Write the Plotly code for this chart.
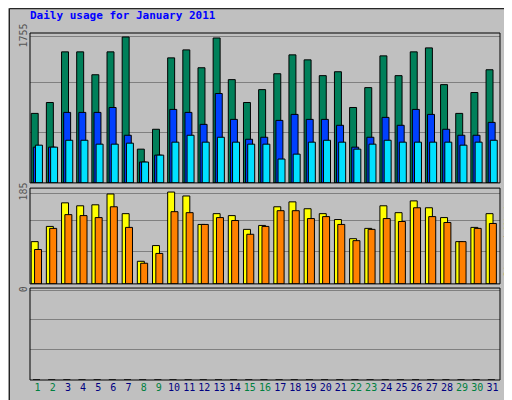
import plotly.graph_objects as go

days = list(range(1, 32))
hits = [836,967,1576,1576,1301,1576,1755,406,645,1504,1600,1385,1743,1242,967,1122,1313,1540,1480,1290,1337,907,1146,1528,1290,1576,1624,1182,836,1087,1361]
files = [430,430,848,848,848,907,573,251,334,884,848,704,1075,764,525,549,752,824,764,764,693,430,549,788,693,884,824,645,573,573,728]
pages = [454,430,513,513,466,466,478,251,334,490,573,490,549,490,466,466,287,346,490,513,490,406,466,513,490,490,490,490,454,490,513]
visits = [86,117,165,159,161,183,143,46,78,187,179,121,143,139,111,119,157,167,153,143,131,92,113,159,145,169,155,135,86,115,143]
sites = [70,113,141,139,135,157,115,42,62,147,145,121,135,129,101,117,149,149,133,137,121,88,111,133,127,155,137,125,86,113,123]
kbytes = [0]*31
weekend = {1,2,8,9,15,16,22,23,29,30}
tick_labels = [f"<span style='color:{'#008040' if d in weekend else '#000080'}'>{d}</span>" for d in days]

fig = go.Figure()
W = 0.46
def bar(y, color, off, yaxis):
    fig.add_trace(go.Bar(x=days, y=y, marker=dict(color=color, line=dict(color="black", width=1)),
                         offset=off, width=W, yaxis=yaxis, showlegend=False))
bar(hits, "#00805A", -0.42, "y")
bar(files, "#0040FF", -0.28, "y")
bar(pages, "#00E0FF", -0.14, "y")
bar(visits, "#FFFF00", -0.42, "y2")
bar(sites, "#FF8000", -0.2, "y2")
bar(kbytes, "#FF0000", -0.3, "y3")

font = dict(family="DejaVu Sans Mono", size=10, color="#000000")
xa = dict(range=[0.5, 31.5], showgrid=False, zeroline=False, showline=False, automargin=False)
ya = dict(tickangle=-90, gridcolor="#808080", zeroline=False, ticks="", automargin=False,
          tickfont=dict(color="#555555"), anchor="x")
fig.update_layout(
    width=512, height=400, paper_bgcolor="#C0C0C0", plot_bgcolor="#C0C0C0",
    margin=dict(l=22, r=20, t=25, b=28, autoexpand=False), barmode="overlay", font=font,
    xaxis=dict(**xa, anchor="y3", tickvals=days, ticktext=tick_labels, ticks="",
               tickfont=dict(size=10, family="DejaVu Sans Mono")),
    yaxis=dict(domain=[0.568, 1.0], range=[0, 1803], tickvals=[601, 1202, 1755], ticktext=["", "", "1755"], **ya),
    yaxis2=dict(domain=[0.277, 0.553], range=[0, 195], tickvals=[65, 130, 185], ticktext=["", "", "185"], **ya),
    yaxis3=dict(domain=[0.0, 0.265], range=[0, 1], tickvals=[0.33, 0.66, 0.97], ticktext=["", "", "0"], **ya),
)
for d0, d1 in [(0.568, 1.0), (0.277, 0.553), (0.0, 0.265)]:
    fig.add_shape(type="rect", xref="paper", yref="paper", x0=0, x1=1, y0=d0, y1=d1,
                  line=dict(color="black", width=1), layer="above")
fig.add_shape(type="rect", xref="paper", yref="paper", x0=-0.044, x1=1.04, y0=-0.078, y1=1.07,
              line=dict(color="#000000", width=1))
fig.add_annotation(text="<b>Daily usage for January 2011</b>", xref="paper", yref="paper", x=-0.005, y=1.025,
                   xanchor="left", yanchor="bottom", showarrow=False,
                   font=dict(family="DejaVu Sans Mono", size=11, color="#0000FF"))
fig.add_annotation(text="<span style='color:#00C0FF'>Pages</span> / <span style='color:#0040FF'>Files</span> / <span style='color:#00805A'>Hits</span>",
                   xref="paper", yref="paper", x=1.004, y=0.99, xanchor="left", yanchor="top", textangle=-90,
                   showarrow=False, font=dict(family="DejaVu Sans Mono", size=10, color="#000"))
fig.add_annotation(text="<span style='color:#FF8000'>Sites</span> / <span style='color:#E0E000'>Visits</span>",
                   xref="paper", yref="paper", x=1.004, y=0.545, xanchor="left", yanchor="top", textangle=-90,
                   showarrow=False, font=dict(family="DejaVu Sans Mono", size=10, color="#000"))
fig.add_annotation(text="<span style='color:#FF0000'>KBytes</span>",
                   xref="paper", yref="paper", x=1.004, y=0.1, xanchor="left", yanchor="top", textangle=-90,
                   showarrow=False, font=dict(family="DejaVu Sans Mono", size=10, color="#000"))
fig.write_html("out.html")
